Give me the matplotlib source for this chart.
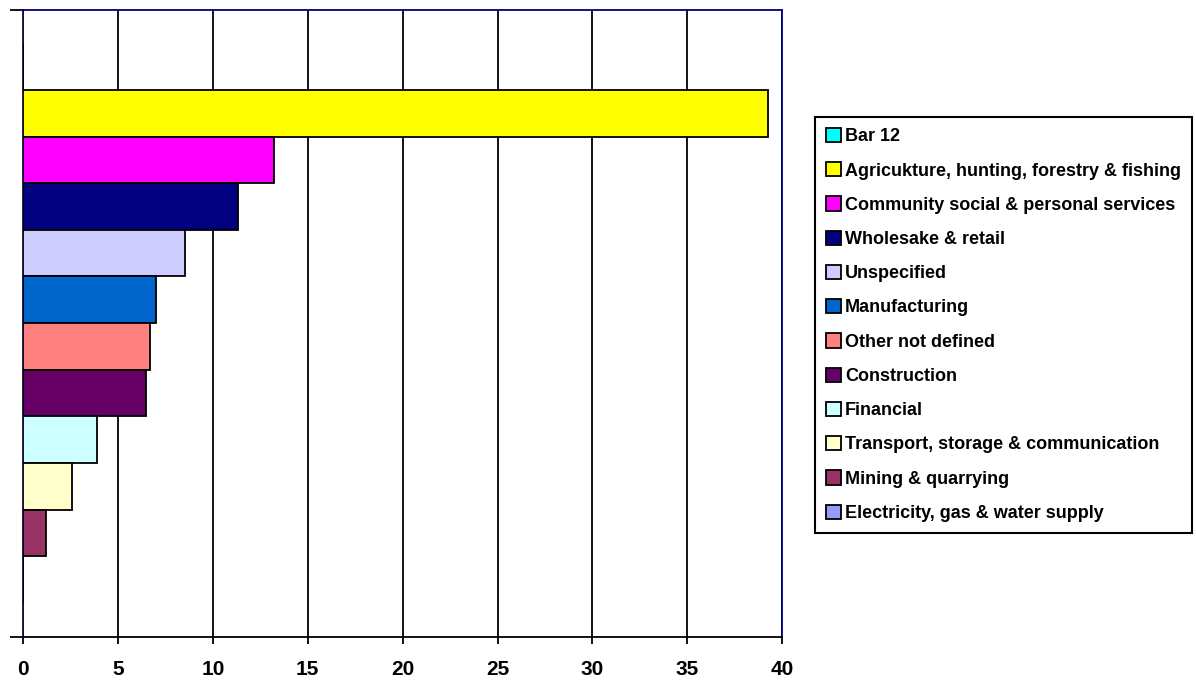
'''Horizontal bar chart of employment share by sector'''
import matplotlib
matplotlib.use('Agg')
import matplotlib.pyplot as plt
from matplotlib import font_manager

sectors = ['Bar 12',
	'Agricukture, hunting, forestry & fishing',
	'Community social & personal services',
	'Wholesake & retail',
	'Unspecified',
	'Manufacturing',
	'Other not defined',
	'Construction',
	'Financial',
	'Transport, storage & communication',
	'Mining & quarrying',
	'Electricity, gas & water supply']
values = [0, 39.25, 13.2, 11.35, 8.55, 7.0, 6.7, 6.5, 3.9, 2.6, 1.2, 0]
colors = ['#00FFFF', '#FFFF00', '#FF00FF', '#000080', '#CCCCFF', '#0066CC',
	'#FF8080', '#660066', '#CCFFFF', '#FFFFCC', '#993366', '#9999FF']
xticks = [0, 5, 10, 15, 20, 25, 30, 35, 40]

# narrow arial look if we have it
names = set(f.name for f in font_manager.fontManager.ttflist)
if 'Liberation Sans Narrow' in names:
	fam, fs_tick, fs_leg, lsp = 'Liberation Sans Narrow', 15, 15.5, 0.45
else:
	fam, fs_tick, fs_leg, lsp = 'Liberation Sans', 15, 13, 0.93
plt.rcParams['font.family'] = [fam, 'DejaVu Sans']

W, H = 1196, 680
fig = plt.figure(figsize=(W / 100, H / 100), dpi=100)
ax = fig.add_axes([23 / W, 1 - 636.7 / H, (782.3 - 23) / W, (636.7 - 9.5) / H])

pos = list(range(len(sectors)))
handles = []
for i in pos:
	b = ax.barh(pos[i], values[i], height=1.0, color=colors[i],
		edgecolor='black', linewidth=1.3, zorder=3)
	handles.append(b[0])

ax.set_xlim(0, 40)
ax.set_ylim(len(sectors) - 1 + 1.225, -1.225)
ax.set_xticks(xticks)
ax.set_xticklabels([str(x) for x in xticks], fontsize=fs_tick, fontweight='bold')
ax.xaxis.grid(True, color='black', linewidth=1.3)
ax.set_axisbelow(True)
ax.tick_params(axis='x', direction='out', length=5, width=1.3, color='black', pad=12)

# category axis only has ticks at the ends
ax.set_yticks(ax.get_ylim())
ax.set_yticklabels(['', ''])
ax.tick_params(axis='y', direction='out', length=9.5, width=1.3, color='black')

ax.spines['top'].set_color('#000080')
ax.spines['right'].set_color('#000080')
ax.spines['left'].set_color('#101040')
ax.spines['bottom'].set_color('black')
for s in ax.spines.values():
	s.set_linewidth(1.3)

leg = ax.legend(handles, sectors, loc='upper left',
	bbox_to_anchor=(815 / W, 1 - 117 / H), bbox_transform=fig.transFigure,
	borderaxespad=0, borderpad=0.6, fancybox=False, framealpha=1,
	edgecolor='black', handlelength=0.85, handleheight=0.85,
	handletextpad=0.2, labelspacing=lsp,
	prop={'family': [fam, 'DejaVu Sans'], 'weight': 'bold', 'size': fs_leg})
leg.get_frame().set_linewidth(1.5)

fig.savefig('out.png', dpi=100)
